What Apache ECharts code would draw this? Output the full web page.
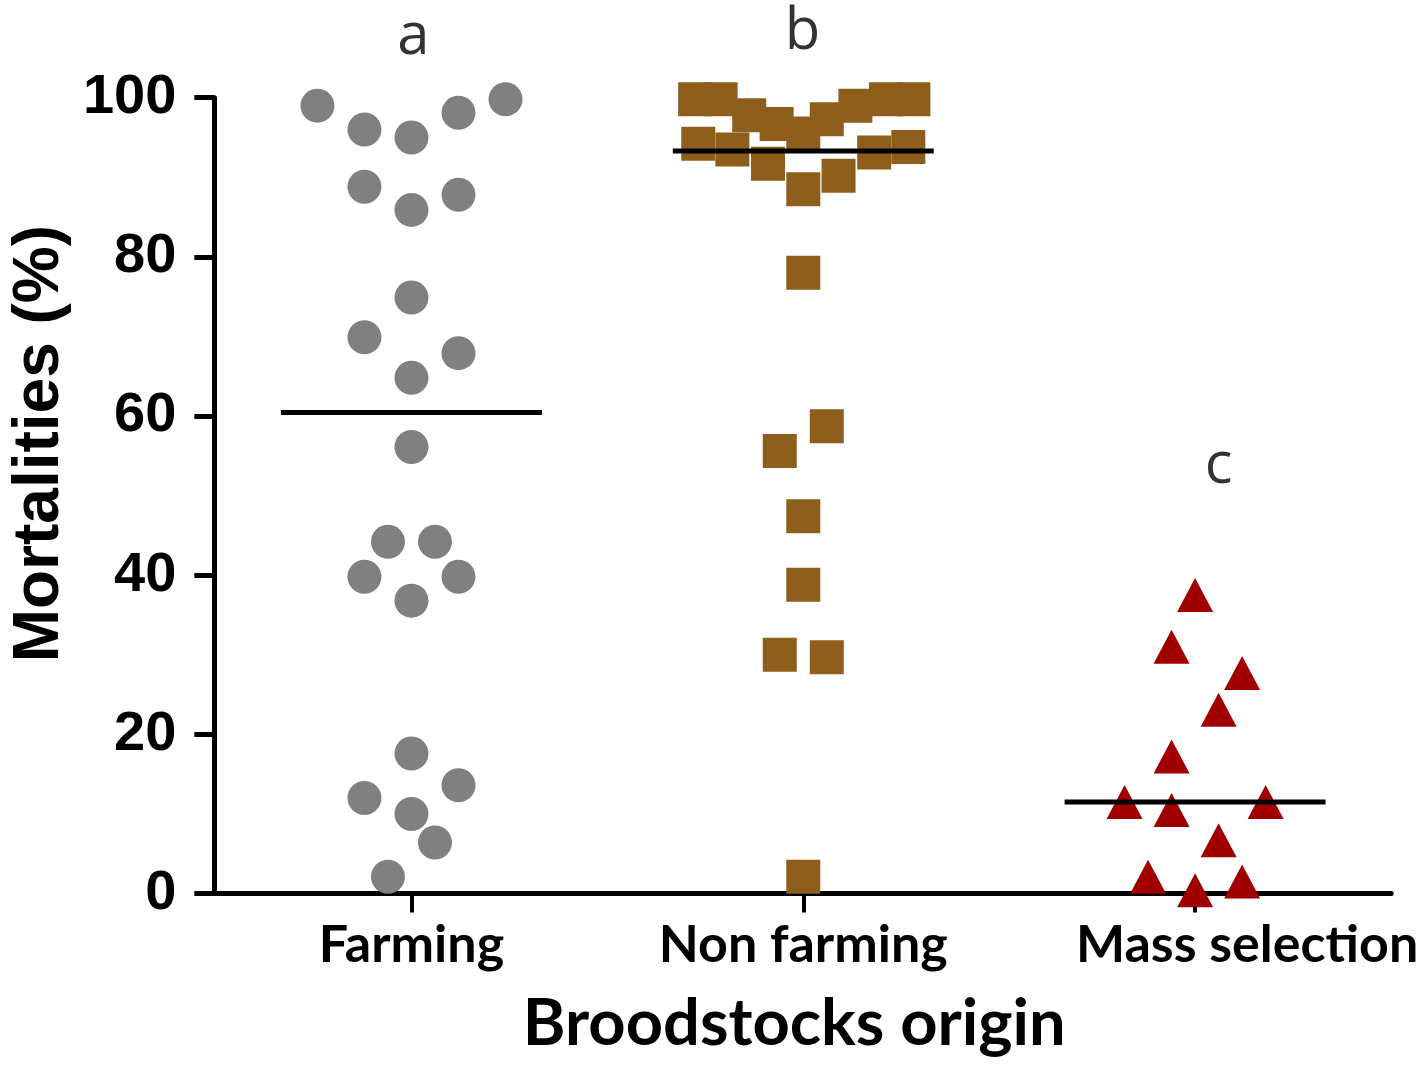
<!DOCTYPE html>
<html>
<head>
<meta charset="utf-8">
<script src="https://cdn.jsdelivr.net/npm/echarts@6/dist/echarts.min.js"></script>
<style>
html,body{margin:0;padding:0;background:#fff;}
#chart{width:1418px;height:1065px;}
</style>
</head>
<body>
<div id="chart"></div>
<script>
// ---- Data ----
const categories = ['Farming', 'Non farming', 'Mass selection'];
const yTicks = [0, 20, 40, 60, 80, 100];

// Farming (grey circles): mortality % and horizontal jitter (in category units)
const farmingValues = [99.0, 96.0, 95.0, 98.1, 99.8, 88.8, 85.9, 87.8, 74.9, 69.9, 67.9, 64.8,
  56.1, 44.2, 44.2, 39.8, 39.8, 36.8, 17.6, 12.0, 13.6, 10.0, 6.4, 2.1];
const farmingJitter = [-0.24, -0.12, 0, 0.12, 0.24, -0.12, 0, 0.12, 0, -0.12, 0.12, 0,
  0, -0.06, 0.06, -0.12, 0.12, 0, 0, -0.12, 0.12, 0, 0.06, -0.06];

// Non farming (brown squares)
const nonFarmingValues = [99.8, 99.8, 97.8, 96.7, 95.5, 97.3, 99.0, 99.8, 99.8,
  94.2, 93.5, 91.7, 88.5, 90.2, 93.1, 93.8,
  78.0, 58.7, 55.6, 47.4, 38.8, 30.0, 29.7, 2.1];
const nonFarmingJitter = [-0.276, -0.211, -0.138, -0.068, 0, 0.060, 0.133, 0.211, 0.281,
  -0.268, -0.181, -0.090, 0, 0.090, 0.181, 0.268,
  0, 0.06, -0.06, 0, 0, -0.06, 0.06, 0];

// Mass selection (red triangles)
const massValues = [37.5, 31.0, 27.7, 23.1, 17.2, 11.5, 10.5, 11.5, 6.7, 2.1, 0.4, 1.5];
const massJitter = [0, -0.06, 0.12, 0.06, -0.06, -0.18, -0.06, 0.18, 0.06, -0.12, 0, 0.12];

// Significance letters
const letters = ['a', 'b', 'c'];
const letterX = [1.005, 1.998, 3.06];
const letterY = [107.6, 108.2, 53.6];

// ---- Helpers ----
function median(arr) {
  const s = arr.slice().sort((a, b) => a - b);
  const n = s.length;
  return n % 2 ? s[(n - 1) / 2] : (s[n / 2 - 1] + s[n / 2]) / 2;
}
function points(values, jitter, pos) {
  return values.map((v, i) => [pos + jitter[i], v]);
}
const halfLine = 0.333;
function medianLine(values, pos) {
  const m = median(values);
  return [[pos - halfLine, m], [pos + halfLine, m]];
}

const chart = echarts.init(document.getElementById('chart'), null, { renderer: 'canvas' });

const lineStyleMedian = { color: '#000', width: 5 };

const option = {
  animation: false,
  backgroundColor: '#ffffff',
  grid: { left: 195, right: 26, top: 97.7, bottom: 171.5, containLabel: false },
  xAxis: {
    type: 'value',
    min: 0.4969,
    max: 3.5006,
    name: 'Broodstocks origin',
    nameLocation: 'middle',
    nameGap: 98,
    nameTextStyle: { fontFamily: 'Lato', fontWeight: 700, fontSize: 65, color: '#000', padding: [0, 17, 0, 0] },
    axisLine: { show: true, onZero: false, lineStyle: { color: '#000', width: 5 } },
    axisTick: { show: true, customValues: [1, 2, 3], length: 19, lineStyle: { color: '#000', width: 4 } },
    axisLabel: {
      show: true,
      customValues: [1, 2, 3],
      formatter: v => {
        const name = categories[Math.round(v) - 1] || '';
        return Math.round(v) === 3 ? '{shift|' + name + '}' : name;
      },
      rich: {
        shift: { fontFamily: 'Lato', fontWeight: 700, fontSize: 52, color: '#000', padding: [0, 0, 0, 104] }
      },
      margin: 26,
      fontFamily: 'Lato',
      fontWeight: 700,
      fontSize: 52,
      color: '#000'
    },
    splitLine: { show: false }
  },
  yAxis: {
    type: 'value',
    min: 0,
    max: 100,
    interval: 20,
    name: 'Mortalities (%)',
    nameLocation: 'middle',
    nameGap: 133,
    nameTextStyle: { fontFamily: 'Liberation Sans', fontWeight: 'bold', fontSize: 64, color: '#000', padding: [0, 0, 0, 104] },
    axisLine: { show: true, lineStyle: { color: '#000', width: 5 } },
    axisTick: { show: true, length: 20, lineStyle: { color: '#000', width: 5 } },
    axisLabel: {
      margin: 38,
      fontFamily: 'Liberation Sans',
      fontWeight: 'bold',
      fontSize: 56,
      color: '#000',
      formatter: v => (yTicks.indexOf(v) >= 0 ? String(v) : '')
    },
    splitLine: { show: false }
  },
  series: [
    {
      name: categories[0], type: 'scatter', symbol: 'circle', symbolSize: 34,
      itemStyle: { color: '#808080', opacity: 1 }, z: 2,
      data: points(farmingValues, farmingJitter, 1)
    },
    {
      name: categories[1], type: 'scatter', symbol: 'rect', symbolSize: 34,
      itemStyle: { color: '#8e5e1d', opacity: 1 }, z: 2,
      data: points(nonFarmingValues, nonFarmingJitter, 2)
    },
    {
      name: categories[2], type: 'scatter', symbol: 'triangle', symbolSize: [36, 34],
      itemStyle: { color: '#a00000', opacity: 1 }, z: 2,
      data: points(massValues, massJitter, 3)
    },
    { type: 'line', data: medianLine(farmingValues, 1), symbol: 'none', lineStyle: lineStyleMedian, z: 5, silent: true },
    { type: 'line', data: medianLine(nonFarmingValues, 2), symbol: 'none', lineStyle: lineStyleMedian, z: 5, silent: true },
    { type: 'line', data: medianLine(massValues, 3), symbol: 'none', lineStyle: lineStyleMedian, z: 5, silent: true },
    {
      type: 'scatter', symbolSize: 1, itemStyle: { color: 'rgba(0,0,0,0)' }, clip: false, silent: true, z: 6,
      data: letters.map((l, i) => ({ value: [letterX[i], letterY[i]], name: l })),
      label: {
        show: true, position: 'inside', formatter: p => p.name,
        fontFamily: 'Open Sans', fontWeight: 400, fontSize: 58, color: '#000'
      }
    }
  ]
};
chart.setOption(option);
</script>
</body>
</html>
